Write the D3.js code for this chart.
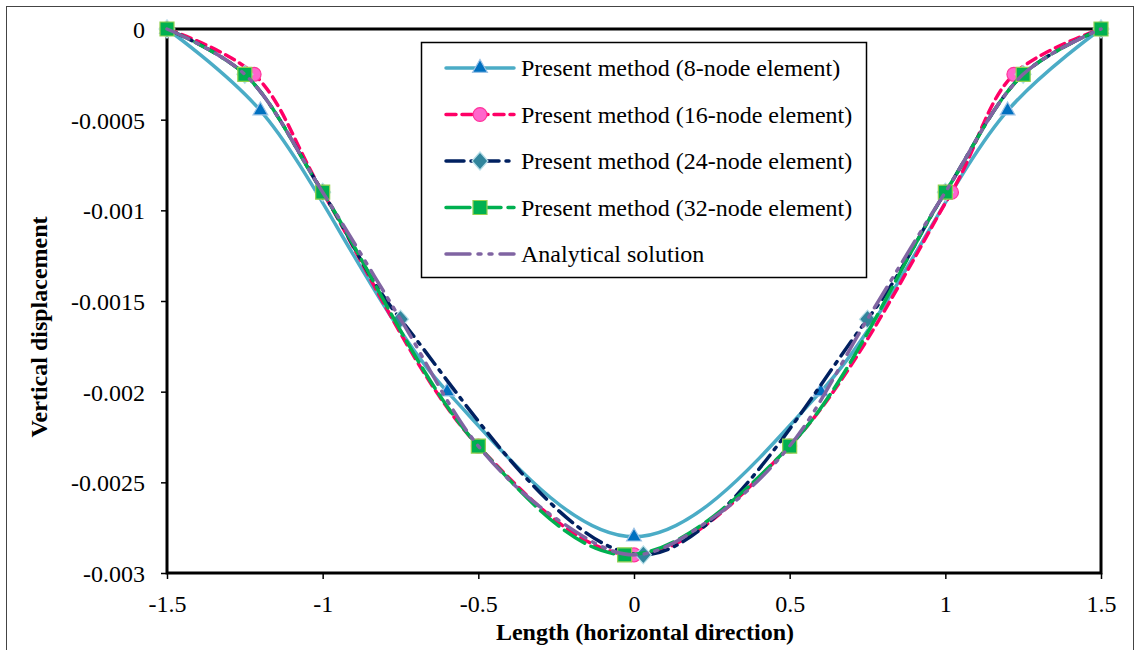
<!DOCTYPE html>
<html>
<head>
<meta charset="utf-8">
<script src="https://cdn.jsdelivr.net/npm/d3@7"></script>
<style>
  body { margin: 0; background: #fff; }
</style>
</head>
<body>
<div id="chart"></div>
<script>
// 数据
const x8 = [-1.5, -1.2, -0.6, 0, 0.6, 1.2, 1.5];
const y8 = [0, -0.00045, -0.002, -0.0028, -0.002, -0.00045, 0];

const x16 = [-1.5, -1.22, -1, -0.5, 0, 0.5, 1.02, 1.22, 1.5];
const y16 = [0, -0.00025, -0.0009, -0.0023, -0.0029, -0.0023, -0.0009, -0.00025, 0];

const x24 = [-1.5, -1.25, -1, -0.75, 0.03, 0.75, 1, 1.25, 1.5];
const y24 = [0, -0.00025, -0.0009, -0.0016, -0.0029, -0.0016, -0.0009, -0.00025, 0];

const x32 = [-1.5, -1.25, -1, -0.5, -0.03, 0.5, 1, 1.25, 1.5];
const y32 = [0, -0.00025, -0.0009, -0.0023, -0.0029, -0.0023, -0.0009, -0.00025, 0];

const xAn = [-1.5, -1.25, -1, -0.75, -0.5, -0.25, 0, 0.25, 0.5, 0.75, 1, 1.25, 1.5];
const yAn = [0, -0.00025, -0.0009, -0.0016, -0.0023, -0.0027, -0.0029, -0.0027, -0.0023, -0.0016, -0.0009, -0.00025, 0];

const xTicks = [-1.5, -1, -0.5, 0, 0.5, 1, 1.5];
const yTicks = [0, -0.0005, -0.001, -0.0015, -0.002, -0.0025, -0.003];

const seriesNames = [
  'Present method (8-node element)',
  'Present method (16-node element)',
  'Present method (24-node element)',
  'Present method (32-node element)',
  'Analytical solution'
];

const FONT = '"Liberation Serif", "Times New Roman", Times, serif';

// 系列样式
const series = [
  { name: seriesNames[0], xs: x8, ys: y8, color: '#4BACC6', dash: null, marker: 'triangle', fill: '#0070C0', mstroke: '#9DC3E6' },
  { name: seriesNames[1], xs: x16, ys: y16, color: '#FF0066', dash: '10,6', marker: 'circle', fill: '#FF66CC', mstroke: '#FF3399' },
  { name: seriesNames[2], xs: x24, ys: y24, color: '#002060', dash: '18,7,3,7', marker: 'diamond', fill: '#31859C', mstroke: '#B7DEE8' },
  { name: seriesNames[3], xs: x32, ys: y32, color: '#00B050', dash: '24,7', marker: 'square', fill: '#00B050', mstroke: '#92D050' },
  { name: seriesNames[4], xs: xAn, ys: yAn, color: '#8064A2', dash: '24,8,3,8,3,8', marker: null }
];

const W = 1137, H = 650;
const svg = d3.select('#chart').append('svg')
  .attr('width', W)
  .attr('height', H);

// 外框
svg.append('rect')
  .attr('x', 6.5).attr('y', 6.5)
  .attr('width', 1127).attr('height', 660)
  .attr('fill', 'none')
  .attr('stroke', '#444')
  .attr('stroke-width', 1);

const x = d3.scaleLinear().domain([-1.5, 1.5]).range([167, 1101]);
const y = d3.scaleLinear().domain([-0.003, 0]).range([573, 29]);

// 坐标轴
const xAxis = svg.append('g')
  .attr('transform', `translate(0,${y(-0.003)})`)
  .call(d3.axisBottom(x).tickValues(xTicks).tickSize(6).tickSizeOuter(0)
    .tickFormat(d => String(d)));
xAxis.select('.domain').remove();
xAxis.selectAll('line').attr('stroke', '#000').attr('stroke-width', 1.5);
xAxis.selectAll('text')
  .style('font-family', FONT).style('font-size', '24px').attr('fill', '#000')
  .attr('y', 31).attr('dy', '0.35em');

const yAxis = svg.append('g')
  .attr('transform', `translate(${x(-1.5)},0)`)
  .call(d3.axisLeft(y).tickValues(yTicks).tickSize(6).tickSizeOuter(0)
    .tickFormat(d => String(d)));
yAxis.select('.domain').remove();
yAxis.selectAll('line').attr('stroke', '#000').attr('stroke-width', 1.5);
yAxis.selectAll('text')
  .style('font-family', FONT).style('font-size', '24px').attr('fill', '#000')
  .attr('x', -22).attr('dy', '0.35em');

// 绘图区边框
svg.append('rect')
  .attr('x', x(-1.5)).attr('y', y(0))
  .attr('width', x(1.5) - x(-1.5))
  .attr('height', y(-0.003) - y(0))
  .attr('fill', 'none')
  .attr('stroke', '#000')
  .attr('stroke-width', 3);

// 标记符号
function markerPath(type) {
  if (type === 'triangle') return d3.symbol(d3.symbolTriangle, 95)();
  if (type === 'circle') return d3.symbol(d3.symbolCircle, 150)();
  if (type === 'diamond') return 'M0,-9L8,0L0,9L-8,0Z';
  if (type === 'square') return 'M-7,-7H7V7H-7Z';
  return null;
}

const line = d3.line()
  .x(d => x(d[0]))
  .y(d => y(d[1]))
  .curve(d3.curveCatmullRom.alpha(0.5));

const plot = svg.append('g');
series.forEach(s => {
  const pts = s.xs.map((v, i) => [v, s.ys[i]]);
  plot.append('path')
    .datum(pts)
    .attr('d', line)
    .attr('fill', 'none')
    .attr('stroke', s.color)
    .attr('stroke-width', 3.5)
    .attr('stroke-dasharray', s.dash)
    .attr('stroke-linecap', 'round');
  if (s.marker) {
    plot.selectAll(null)
      .data(pts)
      .enter().append('path')
      .attr('d', markerPath(s.marker))
      .attr('transform', d => `translate(${x(d[0])},${y(d[1])})`)
      .attr('fill', s.fill)
      .attr('stroke', s.mstroke)
      .attr('stroke-width', 1.2);
  }
});

// 图例
const legend = svg.append('g');
legend.append('rect')
  .attr('x', 421.5).attr('y', 42.5)
  .attr('width', 445).attr('height', 235)
  .attr('fill', '#fff')
  .attr('stroke', '#000')
  .attr('stroke-width', 1.5);

series.forEach((s, i) => {
  const ly = 68 + i * 46.5;
  const g = legend.append('g');
  g.append('line')
    .attr('x1', 446).attr('x2', 514)
    .attr('y1', ly).attr('y2', ly)
    .attr('stroke', s.color)
    .attr('stroke-width', 3.5)
    .attr('stroke-dasharray', s.dash)
    .attr('stroke-linecap', 'round');
  if (s.marker) {
    g.append('path')
      .attr('d', markerPath(s.marker))
      .attr('transform', `translate(480,${ly})`)
      .attr('fill', s.fill)
      .attr('stroke', s.mstroke)
      .attr('stroke-width', 1.2);
  }
  g.append('text')
    .attr('x', 521).attr('y', ly)
    .attr('dy', '0.35em')
    .style('font-family', FONT)
    .style('font-size', '24px')
    .text(s.name);
});

// 轴标题
svg.append('text')
  .attr('x', 645).attr('y', 640)
  .attr('text-anchor', 'middle')
  .style('font-family', FONT)
  .style('font-size', '24px')
  .style('font-weight', 'bold')
  .text('Length (horizontal direction)');

svg.append('text')
  .attr('transform', 'translate(47,327) rotate(-90)')
  .attr('text-anchor', 'middle')
  .style('font-family', FONT)
  .style('font-size', '24px')
  .style('font-weight', 'bold')
  .text('Vertical displacement');
</script>
</body>
</html>
